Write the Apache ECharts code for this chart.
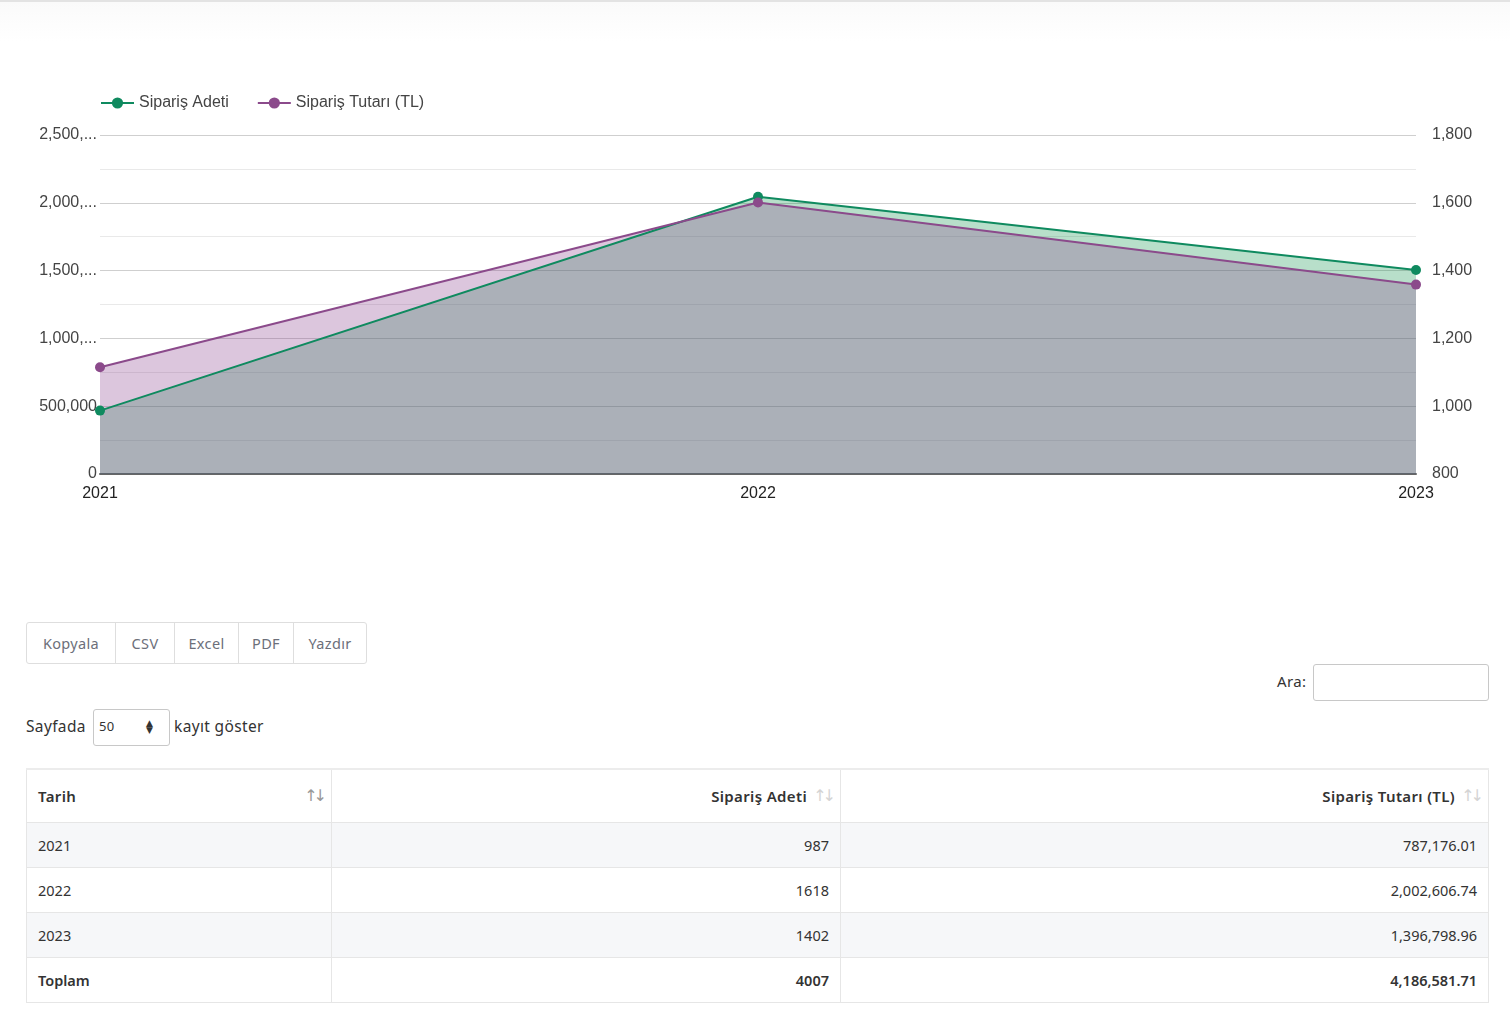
<!DOCTYPE html>
<html>
<head>
<meta charset="utf-8">
<script src="https://cdn.jsdelivr.net/npm/echarts@6/dist/echarts.min.js"></script>
<style>
  html, body { margin:0; padding:0; background:#fff; width:1510px; height:1021px; overflow:hidden; font-family:"Noto Sans", "Open Sans", sans-serif; color:#333; letter-spacing:0.35px; }
  #topbar { position:absolute; left:0; top:0; width:1510px; height:2px; background:#e3e3e3; }
  #topshade { position:absolute; left:0; top:2px; width:1510px; height:40px; background:linear-gradient(#fafafa,#fff); }
  #chart { position:absolute; left:0; top:0; width:1510px; height:560px; letter-spacing:0; }
  .btns { position:absolute; left:26px; top:622px; height:40px; display:flex; border:1px solid #dedede; border-radius:3px; }
  .btns div { height:40px; line-height:40px; font-size:14.5px; color:#6c6f7a; text-align:center; border-left:1px solid #dedede; box-sizing:border-box; }
  .btns div:first-child { border-left:none; }
  .search { position:absolute; left:1277px; top:671px; font-size:15px; color:#333; }
  .searchbox { position:absolute; left:1313px; top:664px; width:174px; height:35px; border:1px solid #c8c8c8; border-radius:3px; }
  .len { position:absolute; left:26px; top:715px; font-size:15.5px; color:#333; }
  .sel { position:absolute; left:93px; top:709px; width:75px; height:35px; border:1px solid #c8c8c8; border-radius:3px; font-size:13px; }
  .sel span.v { position:absolute; left:5px; top:7px; }
  .sel span.a { position:absolute; left:52px; top:10px; font-size:9px; line-height:7px; color:#333; font-family:"DejaVu Sans"; }
  .len2 { position:absolute; left:174px; top:715px; font-size:15.5px; color:#333; }
  table { position:absolute; left:26px; top:768px; width:1463px; border-collapse:collapse; font-size:14.5px; color:#333; }
  table td, table th { border:1px solid #e6e6e6; padding:0 11px; line-height:18px; }
  thead th { height:52px; font-weight:600; font-size:15px; position:relative; border-top:2px solid #ececec; }
  tbody td { height:44px; letter-spacing:0; }
  tbody tr.odd td { background:#f6f7f9; }
  tbody tr.total td { font-weight:600; }
  .l { text-align:left; } .r { text-align:right; }
  .sort { position:absolute; right:8px; top:16px; font-size:16px; line-height:20px; color:#d4d4d4; letter-spacing:-4px; font-weight:400; font-family:"DejaVu Sans"; }
  .sort.on { color:#999; }
  thead th.r { padding-right:33px; }
</style>
</head>
<body>
<div id="topbar"></div>
<div id="topshade"></div>
<div id="chart"></div>

<div class="btns">
  <div style="width:88px">Kopyala</div>
  <div style="width:59px">CSV</div>
  <div style="width:64px">Excel</div>
  <div style="width:55px">PDF</div>
  <div style="width:73px">Yazdır</div>
</div>
<div class="search">Ara:</div>
<div class="searchbox"></div>
<div class="len">Sayfada</div>
<div class="sel"><span class="v">50</span><span class="a">▲<br>▼</span></div>
<div class="len2">kayıt göster</div>

<table id="tbl">
  <thead>
    <tr>
      <th class="l" style="width:282px">Tarih<span class="sort on">↑↓</span></th>
      <th class="r" style="width:464px">Sipariş Adeti<span class="sort">↑↓</span></th>
      <th class="r">Sipariş Tutarı (TL)<span class="sort">↑↓</span></th>
    </tr>
  </thead>
  <tbody id="tb"></tbody>
</table>

<script>
// ---- data ----
const years = ['2021', '2022', '2023'];
const orderCounts = [987, 1618, 1402];
const orderAmounts = [787176.01, 2002606.74, 1396798.96];
const totalLabel = 'Toplam';
const totalCount = 4007;
const totalAmount = 4186581.71;
const seriesNames = ['Sipariş Adeti', 'Sipariş Tutarı (TL)'];

// ---- table ----
function fmt2(v) { return v.toLocaleString('en-US', {minimumFractionDigits:2, maximumFractionDigits:2}); }
const tb = document.getElementById('tb');
years.forEach((y, i) => {
  const tr = document.createElement('tr');
  if (i % 2 === 0) tr.className = 'odd';
  tr.innerHTML = '<td class="l">' + y + '</td><td class="r">' + orderCounts[i] + '</td><td class="r">' + fmt2(orderAmounts[i]) + '</td>';
  tb.appendChild(tr);
});
const trt = document.createElement('tr');
trt.className = 'total';
trt.innerHTML = '<td class="l">' + totalLabel + '</td><td class="r">' + totalCount + '</td><td class="r">' + fmt2(totalAmount) + '</td>';
tb.appendChild(trt);

// ---- chart ----
const chart = echarts.init(document.getElementById('chart'), null, {renderer:'canvas'});
const green = '#0f8a5f';
const purple = '#8b4a8b';
const FONT = "'Liberation Sans', Arial, sans-serif";
const labelFont = {fontFamily:FONT, fontSize:16, color:'#444'};
chart.setOption({
  animation:false,
  textStyle:{fontFamily:FONT},
  legend:{
    left:95, top:90, itemWidth:33, itemHeight:14, itemGap:28,
    textStyle:{fontFamily:FONT, fontSize:16, color:'#444'},
    data:seriesNames
  },
  grid:{left:100, right:94, top:135, bottom:86, containLabel:false},
  xAxis:{
    type:'category', data:years, boundaryGap:false,
    axisLine:{show:true, lineStyle:{color:'#666', width:2}},
    axisTick:{show:false},
    axisLabel:{...labelFont, color:'#222', margin:12},
    splitLine:{show:false}
  },
  yAxis:[
    {
      type:'value', position:'left', min:0, max:2500000, interval:500000,
      axisLine:{show:false}, axisTick:{show:false},
      axisLabel:{...labelFont, margin:3, width:62, overflow:'truncate', ellipsis:'...', padding:[4,0,0,0]},
      splitLine:{show:true, lineStyle:{color:'#cfcfcf', width:1}},
      minorTick:{show:false, splitNumber:2},
      minorSplitLine:{show:true, lineStyle:{color:'#e9e9e9', width:1}}
    },
    {
      type:'value', position:'right', min:800, max:1800, interval:200,
      axisLine:{show:false}, axisTick:{show:false},
      axisLabel:{...labelFont, margin:16, padding:[4,0,0,0]},
      splitLine:{show:false}
    }
  ],
  series:[
    {
      name:seriesNames[0], type:'line', yAxisIndex:1, data:orderCounts,
      symbol:'circle', symbolSize:10, showSymbol:true,
      lineStyle:{color:green, width:2}, itemStyle:{color:green},
      areaStyle:{color:'rgba(20,150,80,0.3)', opacity:1, origin:'start'}
    },
    {
      name:seriesNames[1], type:'line', yAxisIndex:0, data:orderAmounts,
      symbol:'circle', symbolSize:10, showSymbol:true,
      lineStyle:{color:purple, width:2}, itemStyle:{color:purple},
      areaStyle:{color:'rgba(138,65,142,0.3)', opacity:1, origin:'start'}
    }
  ]
});
</script>
</body>
</html>
